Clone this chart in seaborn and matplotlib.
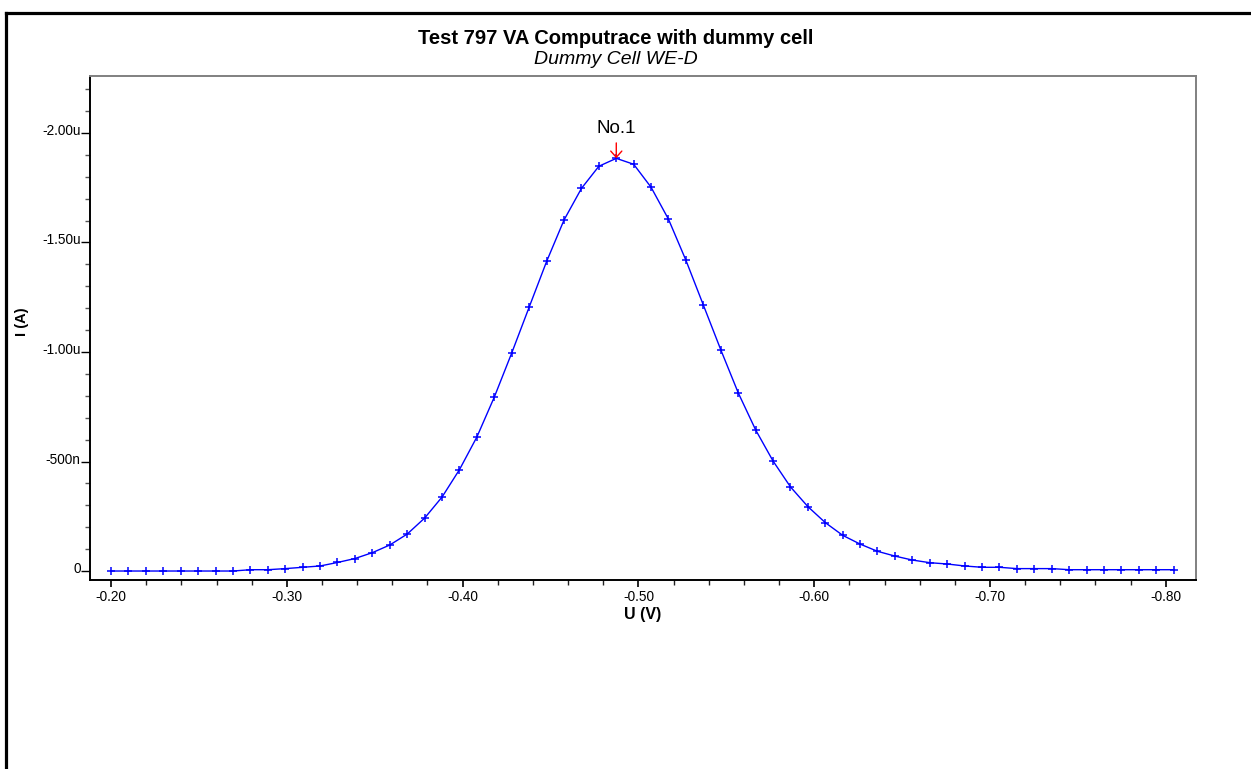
import matplotlib
matplotlib.use('Agg')
import matplotlib.pyplot as plt
import matplotlib.transforms as mtransforms
from matplotlib.lines import Line2D
from matplotlib.ticker import MultipleLocator
import seaborn as sns
import pandas as pd

# ---- data ----
potential_V = [
    -0.2000, -0.2099, -0.2198, -0.2297, -0.2396, -0.2496, -0.2595, -0.2694,
    -0.2793, -0.2892, -0.2991, -0.3090, -0.3189, -0.3288, -0.3387, -0.3487,
    -0.3586, -0.3685, -0.3784, -0.3883, -0.3982, -0.4081, -0.4180, -0.4279,
    -0.4378, -0.4478, -0.4577, -0.4676, -0.4775, -0.4874, -0.4973, -0.5072,
    -0.5171, -0.5270, -0.5369, -0.5469, -0.5568, -0.5667, -0.5766, -0.5865,
    -0.5964, -0.6063, -0.6162, -0.6261, -0.6360, -0.6460, -0.6559, -0.6658,
    -0.6757, -0.6856, -0.6955, -0.7054, -0.7153, -0.7252, -0.7351, -0.7451,
    -0.7550, -0.7649, -0.7748, -0.7847, -0.7946, -0.8045,
]
current_uA = [
    0.000, 0.000, 0.000, 0.000, 0.000, 0.000, 0.000, 0.000,
    -0.006, -0.006, -0.011, -0.017, -0.023, -0.039, -0.057, -0.084,
    -0.119, -0.169, -0.242, -0.338, -0.463, -0.612, -0.794, -0.995,
    -1.204, -1.414, -1.603, -1.747, -1.848, -1.884, -1.857, -1.752,
    -1.606, -1.419, -1.215, -1.009, -0.813, -0.644, -0.502, -0.384,
    -0.294, -0.221, -0.163, -0.123, -0.090, -0.068, -0.050, -0.038,
    -0.032, -0.023, -0.017, -0.017, -0.011, -0.011, -0.011, -0.006,
    -0.006, -0.006, -0.006, -0.006, -0.006, -0.006,
]
peak_index = 29
peak_label = "No.1"

x_ticks = [-0.20, -0.30, -0.40, -0.50, -0.60, -0.70, -0.80]
x_tick_labels = ["-0.20", "-0.30", "-0.40", "-0.50", "-0.60", "-0.70", "-0.80"]
y_ticks = [0.0, -0.5, -1.0, -1.5, -2.0]
y_tick_labels = ["0", "-500n", "-1.00u", "-1.50u", "-2.00u"]

title = "Test 797 VA Computrace with dummy cell"
subtitle = "Dummy Cell WE-D"
x_label = "U (V)"
y_label = "I (A)"

df = pd.DataFrame({"U": potential_V, "I": current_uA})

# ---- style ----
sns.set_theme(style="ticks")
plt.rcParams['font.family'] = ['Liberation Sans', 'DejaVu Sans']

W, H = 1251, 769
fig = plt.figure(figsize=(W / 100, H / 100), dpi=100)
fig.patch.set_facecolor('white')

ax_l, ax_r, ax_t, ax_b = 90, 1196, 76, 580
ax = fig.add_axes([ax_l / W, 1 - ax_b / H, (ax_r - ax_l) / W, (ax_b - ax_t) / H])

sns.lineplot(data=df, x="U", y="I", ax=ax, color="#0000ff", linewidth=1.0,
             marker="+", markersize=6, markeredgewidth=1.1,
             markeredgecolor="#0000ff", sort=False)

ax.set_xlim(-0.188, -0.8172)
ax.set_ylim(0.041, -2.26)

ax.set_xticks(x_ticks, x_tick_labels)
ax.xaxis.set_minor_locator(MultipleLocator(0.02))
ax.set_yticks(y_ticks, y_tick_labels)
ax.yaxis.set_minor_locator(MultipleLocator(0.1))

ax.tick_params(axis='x', which='major', length=5, width=1.2, color='black',
               labelsize=9.8, pad=2, labelcolor='black')
ax.tick_params(axis='x', which='minor', length=3.6, width=1.0, color='#222222')
ax.tick_params(axis='y', which='major', length=6.5, width=1.0, color='black',
               labelsize=9.8, pad=0.3, labelcolor='black')
ax.tick_params(axis='y', which='minor', length=3.6, width=1.0, color='#555555')

# y tick labels sit slightly above their ticks
offset = mtransforms.ScaledTranslation(0, 0.035, fig.dpi_scale_trans)
for lab in ax.get_yticklabels():
    lab.set_transform(lab.get_transform() + offset)

for side in ['left', 'bottom']:
    ax.spines[side].set_color('black')
    ax.spines[side].set_linewidth(1.4)
for side in ['top', 'right']:
    ax.spines[side].set_visible(True)
    ax.spines[side].set_color('#808080')
    ax.spines[side].set_linewidth(1.4)

ax.set_xlabel(x_label, fontsize=11.5, fontweight='bold', color='black')
ax.xaxis.set_label_coords(0.5, (ax_b - 615) / (ax_b - ax_t))
ax.xaxis.label.set_va('center')
ax.set_ylabel(y_label, fontsize=10.5, fontweight='bold', color='black')
ax.yaxis.set_label_coords((22 - ax_l) / (ax_r - ax_l), (ax_b - 322) / (ax_b - ax_t))
ax.yaxis.label.set_va('center')

# peak marker
ax.annotate(peak_label, xy=(potential_V[peak_index], current_uA[peak_index]),
            xytext=(0, 30), textcoords='offset pixels', ha='center', va='center',
            fontsize=13.5, color='black',
            arrowprops=dict(arrowstyle='->,head_length=0.45,head_width=0.4',
                            color='red', lw=1.0, shrinkA=2, shrinkB=0,
                            mutation_scale=10))

# titles
fig.text(616 / W, 1 - 38 / H, title, ha='center', va='center',
         fontsize=14.5, fontweight='bold', color='black')
fig.text(616 / W, 1 - 60 / H, subtitle, ha='center', va='center',
         fontsize=14, fontstyle='italic', color='black')

# outer frame (left and top edges)
fig.add_artist(Line2D([5.5 / W, 5.5 / W], [0, 1 - 12.5 / H], transform=fig.transFigure,
                      color='black', linewidth=2.3, solid_capstyle='projecting'))
fig.add_artist(Line2D([5.5 / W, 1], [1 - 12.5 / H, 1 - 12.5 / H], transform=fig.transFigure,
                      color='black', linewidth=2.3, solid_capstyle='projecting'))

fig.savefig("out.png", dpi=100)
